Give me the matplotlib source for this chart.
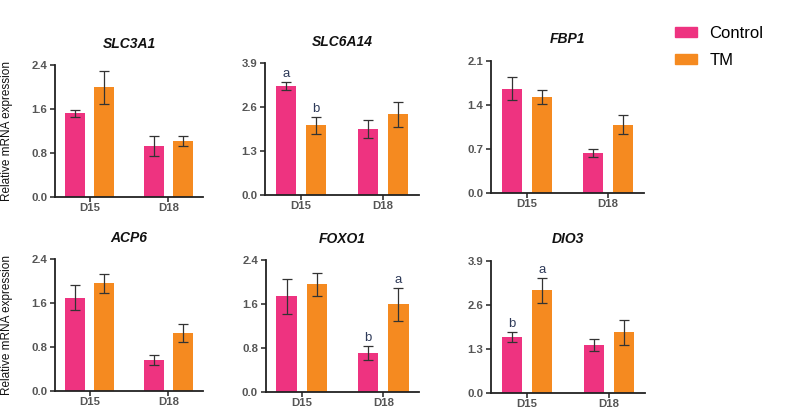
import matplotlib
matplotlib.use("Agg")
import matplotlib.pyplot as plt
import numpy as np
from matplotlib.patches import Patch

plt.rcParams['font.family'] = ['Liberation Sans', 'DejaVu Sans']

genes = ["SLC3A1", "SLC6A14", "FBP1", "ACP6", "FOXO1", "DIO3"]
days = ["D15", "D18"]
groups = ["Control", "TM"]

control_mean = {
    "SLC3A1": [1.52, 0.93], "SLC6A14": [3.23, 1.96], "FBP1": [1.655, 0.63],
    "ACP6": [1.70, 0.56], "FOXO1": [1.74, 0.71], "DIO3": [1.645, 1.42],
}
control_err = {
    "SLC3A1": [0.07, 0.18], "SLC6A14": [0.12, 0.27], "FBP1": [0.185, 0.06],
    "ACP6": [0.23, 0.095], "FOXO1": [0.32, 0.13], "DIO3": [0.16, 0.18],
}
tm_mean = {
    "SLC3A1": [2.00, 1.02], "SLC6A14": [2.07, 2.39], "FBP1": [1.52, 1.08],
    "ACP6": [1.96, 1.055], "FOXO1": [1.96, 1.59], "DIO3": [3.02, 1.785],
}
tm_err = {
    "SLC3A1": [0.30, 0.09], "SLC6A14": [0.25, 0.37], "FBP1": [0.11, 0.15],
    "ACP6": [0.175, 0.17], "FOXO1": [0.21, 0.30], "DIO3": [0.38, 0.375],
}
yticks = {
    "SLC3A1": [0.0, 0.8, 1.6, 2.4], "SLC6A14": [0.0, 1.3, 2.6, 3.9],
    "FBP1": [0.0, 0.7, 1.4, 2.1], "ACP6": [0.0, 0.8, 1.6, 2.4],
    "FOXO1": [0.0, 0.8, 1.6, 2.4], "DIO3": [0.0, 1.3, 2.6, 3.9],
}
# significance letters: (day index, group index, letter)
letters = {
    "SLC6A14": [(0, 0, "a"), (0, 1, "b")],
    "FOXO1": [(1, 0, "b"), (1, 1, "a")],
    "DIO3": [(0, 0, "b"), (0, 1, "a")],
}

PINK = "#EE3380"
ORANGE = "#F58A20"
W, H = 791, 409
fig = plt.figure(figsize=(W / 100, H / 100), dpi=100)

# axes pixel boxes: left, right, top, bottom
boxes = {
    "SLC3A1": (55, 203, 65, 197),
    "SLC6A14": (265, 419, 63.3, 195),
    "FBP1": (491, 644, 60.7, 192.7),
    "ACP6": (55, 203, 259, 391),
    "FOXO1": (265.7, 419.3, 260, 391.7),
    "DIO3": (491, 645, 260.7, 392.7),
}

x = np.arange(len(days))
bw = 0.25
off = 0.185
for g in genes:
    l, r, t, b = boxes[g]
    ax = fig.add_axes([l / W, 1 - b / H, (r - l) / W, (b - t) / H])
    ax.bar(x - off, control_mean[g], bw, color=PINK, zorder=2)
    ax.bar(x + off, tm_mean[g], bw, color=ORANGE, zorder=2)
    ax.errorbar(x - off, control_mean[g], yerr=control_err[g], fmt="none",
                ecolor="#333333", elinewidth=0.9, capsize=3.3, capthick=0.9, zorder=3)
    ax.errorbar(x + off, tm_mean[g], yerr=tm_err[g], fmt="none",
                ecolor="#333333", elinewidth=0.9, capsize=3.3, capthick=0.9, zorder=3)
    yt = yticks[g]
    ax.set_ylim(0, yt[-1])
    ax.set_xlim(-0.44, 1.44)
    ax.set_yticks(yt)
    ax.set_yticklabels([f"{v:.1f}" for v in yt])
    ax.set_xticks(x)
    ax.set_xticklabels(days)
    for sp in ["top", "right"]:
        ax.spines[sp].set_visible(False)
    for sp in ["left", "bottom"]:
        ax.spines[sp].set_color("#222222")
        ax.spines[sp].set_linewidth(1.3)
    ax.tick_params(axis="both", colors="#222222", length=3.5, width=1.1,
                   labelsize=8.2, labelcolor="#555555", pad=2)
    ax.tick_params(axis="x", pad=1)
    for lab in ax.get_xticklabels() + ax.get_yticklabels():
        lab.set_fontweight("bold")
    ax.set_title(g, fontsize=10, fontweight="bold", fontstyle="italic",
                 color="#111111", pad=12.5)
    ymax = yt[-1]
    for di, gi, s in letters.get(g, []):
        m = (control_mean if gi == 0 else tm_mean)[g][di]
        e = (control_err if gi == 0 else tm_err)[g][di]
        xp = x[di] + (off if gi else -off)
        ax.text(xp, m + e + ymax * 0.012, s, ha="center", va="bottom",
                fontsize=9.5, color="#2E3A59")

fig.text(7 / W, 1 - 131 / H, "Relative mRNA expression", rotation=90,
         ha="center", va="center", fontsize=8.5, color="#111111")
fig.text(7 / W, 1 - 325 / H, "Relative mRNA expression", rotation=90,
         ha="center", va="center", fontsize=8.5, color="#111111")

handles = [Patch(color=PINK, label="Control"), Patch(color=ORANGE, label="TM")]
fig.legend(handles=handles, loc="upper left", bbox_to_anchor=(660 / W, 1 - 11 / H),
           frameon=False, fontsize=12, handlelength=1.3, handleheight=0.5,
           labelspacing=0.7, handletextpad=0.75)

fig.savefig("out.png", dpi=100)
